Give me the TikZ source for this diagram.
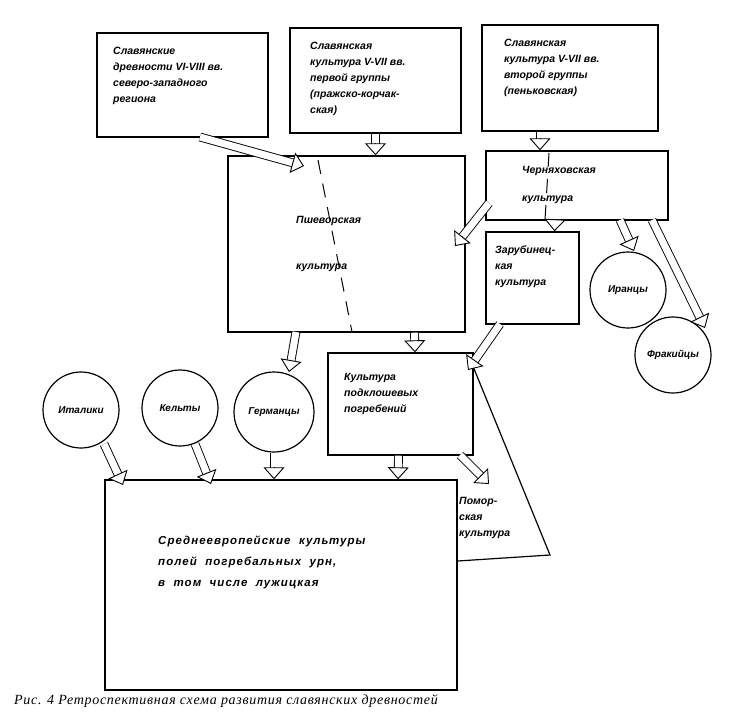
\documentclass[tikz,border=0pt]{standalone}
\usepackage{fontspec}
\setmainfont{Liberation Serif}
\newfontfamily\handfont{Liberation Sans}
\newfontfamily\widefont[LetterSpace=9,WordSpace=2]{Liberation Sans}
\newfontfamily\capfont[LetterSpace=5]{Liberation Serif}
\usetikzlibrary{arrows.meta,calc}

\tikzset{
    box/.style={draw, line width=1.4pt, inner sep=0pt},
    circ/.style={draw, circle, line width=1.2pt, inner sep=0pt, font=\handfont\itshape\bfseries\fontsize{10}{12}\selectfont},
    txt/.style={anchor=north west, align=left, inner sep=0pt, font=\handfont\itshape\bfseries\fontsize{10.5}{16}\selectfont},
    shaft/.style={double distance=7pt, line width=0.9pt, shorten >=10pt},
    head/.style={line width=0.9pt, -{Triangle[length=12pt,width=21pt,fill=white,line width=0.9pt]}}
}
\newcommand{\hollow}[2]{%
    \draw[shaft] (#1) -- (#2);
    \draw[head] ($(#2)!12pt!(#1)$) -- (#2);
}

\begin{document}
\begin{tikzpicture}[x=1pt,y=-1pt]
    \useasboundingbox (0,0) rectangle (750,723);
    % boxes
    \node[box, minimum width=171pt, minimum height=104pt] (slav) at (182.5,85) {};
    \node[box, minimum width=171pt, minimum height=105pt] (first) at (375.5,80.5) {};
    \node[box, minimum width=176pt, minimum height=106pt] (second) at (570,78) {};
    \node[box, minimum width=237pt, minimum height=176pt] (pshev) at (346.5,244) {};
    \node[box, minimum width=182pt, minimum height=69pt] (chern) at (577,185.5) {};
    \node[box, minimum width=93pt, minimum height=92pt] (zarub) at (532.5,278) {};
    \node[box, minimum width=145pt, minimum height=102pt] (podkl) at (400.5,404) {};
    \node[box, minimum width=352pt, minimum height=210pt] (centr) at (281,585) {};
    \draw[line width=1.2pt] (podkl.east |- 0,368) -- (550,555) -- (centr.east |- 0,561);
    % circles
    \node[circ, minimum size=76pt] (iran) at (628,290) {Иранцы};
    \node[circ, minimum size=76pt] (frak) at (673,355) {Фракийцы};
    \node[circ, minimum size=76pt] (ital) at (81,410) {Италики};
    \node[circ, minimum size=76pt] (kelt) at (180,408) {Кельты};
    \node[circ, minimum size=80pt] (germ) at (274,412) {Германцы};
    % dashed borders
    \draw[line width=1pt, dash pattern=on 14pt off 10pt] (318,160) -- (352,332);
    \draw[line width=1pt, dash pattern=on 14pt off 12pt] (549,153) -- (545,220);
    % texts
    \node[txt] (slavT) at (113,47) {Славянские\\древности VI-VIII вв.\\северо-западного\\региона};
    \node[txt] (firstT) at (310,42) {Славянская\\культура V-VII вв.\\первой группы\\(пражско-корчак-\\ская)};
    \node[txt] (secondT) at (504,39) {Славянская\\культура V-VII вв.\\второй группы\\(пеньковская)};
    \node[txt] (pshevT) at (296,216) {Пшеворская\\[30pt]культура};
    \node[txt] (chernT) at (522,166) {Черняховская\\[12pt]культура};
    \node[txt] (zarubT) at (495,246) {Зарубинец-\\кая\\культура};
    \node[txt] (podklT) at (344,373) {Культура\\подклошевых\\погребений};
    \node[txt, font=\widefont\itshape\bfseries\fontsize{11.5}{16}\selectfont] (centrT) at (158,536) {Среднеевропейские культуры\\[5pt]полей погребальных урн,\\[5pt]в том числе лужицкая};
    \node[txt] (pomorT) at (459,497) {Помор-\\ская\\культура};
    \node[anchor=west, inner sep=0pt, font=\capfont\itshape\fontsize{14}{16}\selectfont] (caption) at (14,701) {Рис. 4 Ретроспективная схема развития славянских древностей};
    % arrows
    \coordinate (a1) at (200,137); \coordinate (b1) at (304,166);
    \hollow{a1}{b1}
    \hollow{first.south}{first.south |- pshev.north}
    \hollow{$(second.south)+(-30,0)$}{$(chern.north)+(-37,0)$}
    \coordinate (a4) at (489,203); \coordinate (b4) at (455,246);
    \hollow{a4}{b4}
    \hollow{$(chern.south)+(-22,0)$}{$(zarub.north)+(22,0)$}
    \coordinate (a6) at (620,220); \coordinate (b6) at (634,251);
    \hollow{a6}{b6}
    \coordinate (a7) at (652,220); \coordinate (b7) at (705,328);
    \hollow{a7}{b7}
    \coordinate (a8) at (296,332); \coordinate (b8) at (289,372);
    \hollow{a8}{b8}
    \hollow{$(pshev.south)+(68,0)$}{$(podkl.north)+(14.5,0)$}
    \coordinate (a10) at (500,324); \coordinate (b10) at (468,370);
    \hollow{a10}{b10}
    \coordinate (a11) at (104,444); \coordinate (b11) at (123,485);
    \hollow{a11}{b11}
    \coordinate (a12) at (195,444); \coordinate (b12) at (211,484);
    \hollow{a12}{b12}
    \hollow{germ.south}{germ.south |- centr.north}
    \hollow{$(podkl.south)+(-2,0)$}{$(centr.north)+(117,0)$}
    \coordinate (a15) at (460,455); \coordinate (b15) at (489,484);
    \hollow{a15}{b15}
\end{tikzpicture}
\end{document}
